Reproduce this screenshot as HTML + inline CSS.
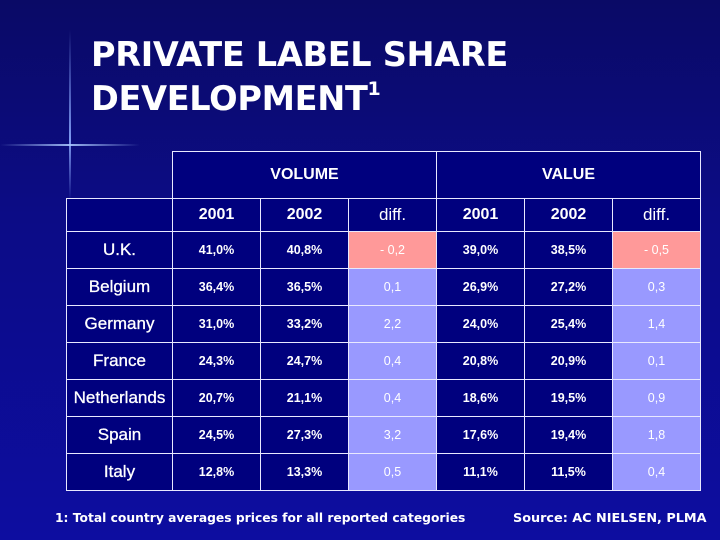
<!DOCTYPE html>
<html><head><meta charset="utf-8"><style>
*{margin:0;padding:0;box-sizing:border-box}
body{width:720px;height:540px;overflow:hidden;background:linear-gradient(180deg,#0a0a66 0%,#0c0c86 40%,#0d0da0 100%);position:relative;font-family:"Liberation Sans",Arial,sans-serif;color:#fff}
.title{position:absolute;left:91px;top:33px;font-family:"DejaVu Sans",sans-serif;font-weight:bold;font-size:33.5px;line-height:44px;color:#fff;letter-spacing:-0.3px}
.title sup{font-size:19px;vertical-align:15px;line-height:0}
.vline{position:absolute;left:69px;top:30px;width:2px;height:170px;background:linear-gradient(180deg,rgba(90,120,255,0),rgba(140,170,255,.9) 65%,rgba(90,120,255,0))}
.hline{position:absolute;left:0;top:144px;width:140px;height:2px;background:linear-gradient(90deg,rgba(90,120,255,0),rgba(170,200,255,.9) 50%,rgba(90,120,255,0))}
.cell{position:absolute;border:1px solid #e8e8ff;display:flex;align-items:center;justify-content:center;font-weight:bold;background:#00007e}
.hd{font-size:16px}
.dh{font-weight:normal;font-size:17px}
.ctry{font-size:17px;font-weight:normal;-webkit-text-stroke:0.3px #fff}
.num{font-size:12.5px}
.diff{background:#9999ff;font-weight:normal}
.neg{background:#ff9999;font-weight:normal}
.foot{position:absolute;top:511px;font-family:"DejaVu Sans",sans-serif;font-weight:bold}
</style></head><body>
<div class="vline"></div>
<div class="hline"></div>
<div class="title">PRIVATE LABEL SHARE<br>DEVELOPMENT<sup>1</sup></div>
<div id="tbl"></div>
<div class="foot" style="left:55px;font-size:12.3px">1: Total country averages prices for all reported categories</div>
<div class="foot" style="left:513px;font-size:12.8px">Source: AC NIELSEN, PLMA</div>
<script>
const countries=["U.K.","Belgium","Germany","France","Netherlands","Spain","Italy"];
const vol2001=["41,0%","36,4%","31,0%","24,3%","20,7%","24,5%","12,8%"];
const vol2002=["40,8%","36,5%","33,2%","24,7%","21,1%","27,3%","13,3%"];
const volDiff=["- 0,2","0,1","2,2","0,4","0,4","3,2","0,5"];
const val2001=["39,0%","26,9%","24,0%","20,8%","18,6%","17,6%","11,1%"];
const val2002=["38,5%","27,2%","25,4%","20,9%","19,5%","19,4%","11,5%"];
const valDiff=["- 0,5","0,3","1,4","0,1","0,9","1,8","0,4"];
const colX=[66,172,260,348,436,524,612,700];
const rowY=[198,231,268,305,342,379,416,453,490];
const tbl=document.getElementById('tbl');
function cell(x1,y1,x2,y2,txt,cls,name){
 const d=document.createElement('div');
 d.className='cell '+cls;
 d.style.left=x1+'px';d.style.top=y1+'px';d.style.width=(x2-x1+1)+'px';d.style.height=(y2-y1+1)+'px';
 d.textContent=txt;
 
 
 tbl.appendChild(d);
}
cell(172,151,436,198,'VOLUME','hd','volume-header');
cell(436,151,700,198,'VALUE','hd','value-header');
cell(66,198,172,231,'','hd','corner-cell');
const hdrs=["2001","2002","diff.","2001","2002","diff."];
hdrs.forEach((h,i)=>cell(colX[i+1],198,colX[i+2],231,h,h==='diff.'?'hd dh':'hd','column-header'));
countries.forEach((c,r)=>{
 const y1=rowY[r+1],y2=rowY[r+2];
 cell(colX[0],y1,colX[1],y2,c,'ctry','country-label');
 const vals=[vol2001[r],vol2002[r],volDiff[r],val2001[r],val2002[r],valDiff[r]];
 vals.forEach((v,i)=>{
  let cls='num';
  if(i===2||i===5) cls+= v.trim().startsWith('-')?' neg':' diff';
  cell(colX[i+1],y1,colX[i+2],y2,v,cls,'data-cell');
 });
});
</script>
</body></html>
